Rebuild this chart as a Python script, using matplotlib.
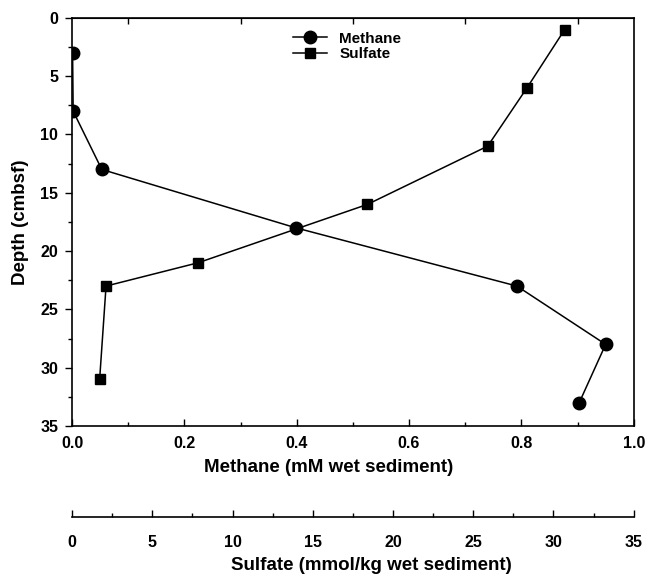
import numpy as np
import matplotlib
matplotlib.use('Agg')
import matplotlib.pyplot as plt
from matplotlib.ticker import MultipleLocator, FixedLocator

plt.rcParams['font.family'] = ['Liberation Sans', 'DejaVu Sans']
plt.rcParams['font.weight'] = 'bold'

# 数据
methane_depth = [3, 8, 13, 18, 23, 28, 33]
methane = [0.001, 0.002, 0.053, 0.398, 0.792, 0.950, 0.903]

sulfate_depth = [1, 6, 11, 16, 21, 23, 31]
sulfate = [30.7, 28.35, 25.9, 18.4, 7.86, 2.12, 1.72]

fig = plt.figure(figsize=(6.46, 5.76), dpi=100)
ax = fig.add_axes([0.1115, 0.2604, 0.8695, 0.7086])

# 硫酸盐换算到甲烷坐标 (0-35 -> 0-1)
sulfate_scaled = np.array(sulfate) / 35.0

ax.plot(methane, methane_depth, 'k-', marker='o', markersize=9, lw=1.1, label='Methane')
ax.plot(sulfate_scaled, sulfate_depth, 'k-', marker='s', markersize=7.5, lw=1.1, label='Sulfate')

ax.set_xlim(0, 1.0)
ax.set_ylim(35, 0)
ax.xaxis.set_minor_locator(MultipleLocator(0.1))
ax.yaxis.set_major_locator(MultipleLocator(5))
ax.yaxis.set_minor_locator(MultipleLocator(2.5))
ax.set_xticks([0.0, 0.2, 0.4, 0.6, 0.8, 1.0])
ax.set_xticklabels(['0.0', '0.2', '0.4', '0.6', '0.8', '1.0'])

ax.tick_params(axis='x', which='major', direction='in', length=5, width=1, labelsize=11.5, pad=7)
ax.tick_params(axis='x', which='minor', direction='in', length=3, width=1)
ax.tick_params(axis='y', which='major', direction='out', length=5, width=1, labelsize=11.5, pad=5)
ax.tick_params(axis='y', which='minor', direction='out', length=3, width=1)

# 顶部刺度
top = ax.secondary_xaxis('top')
top.xaxis.set_major_locator(FixedLocator([0.1, 0.3, 0.5, 0.7, 0.9]))
top.tick_params(direction='in', length=4, width=1, labeltop=False)
top.set_xticklabels([])

for s in ax.spines.values():
    s.set_linewidth(1.2)

ax.set_xlabel('Methane (mM wet sediment)', fontsize=13.5, fontweight='bold')
ax.xaxis.set_label_coords(0.456, -0.08)
ax.set_ylabel('Depth (cmbsf)', fontsize=13.5, fontweight='bold', labelpad=8)

ax.legend(loc='upper center', bbox_to_anchor=(0.49, 1.0), frameon=False,
          prop={'size': 11, 'weight': 'bold'}, handlelength=2.2, labelspacing=0.1)

# 硫酸盐坐标轴
ax2 = fig.add_axes([0.1115, 0.103, 0.8695, 0.001])
ax2.set_xlim(0, 35)
ax2.set_yticks([])
for k in ['top', 'left', 'right']:
    ax2.spines[k].set_visible(False)
ax2.spines['bottom'].set_linewidth(1.2)
ax2.patch.set_alpha(0)
ax2.xaxis.set_major_locator(MultipleLocator(5))
ax2.xaxis.set_minor_locator(MultipleLocator(2.5))
ax2.tick_params(axis='x', which='major', direction='in', length=5, width=1, labelsize=11.5, pad=13)
ax2.tick_params(axis='x', which='minor', direction='in', length=3, width=1)
fig.text(0.575, 0.018, 'Sulfate (mmol/kg wet sediment)', fontsize=13.5, fontweight='bold',
         ha='center', va='center')

fig.savefig('out.png', dpi=100)
